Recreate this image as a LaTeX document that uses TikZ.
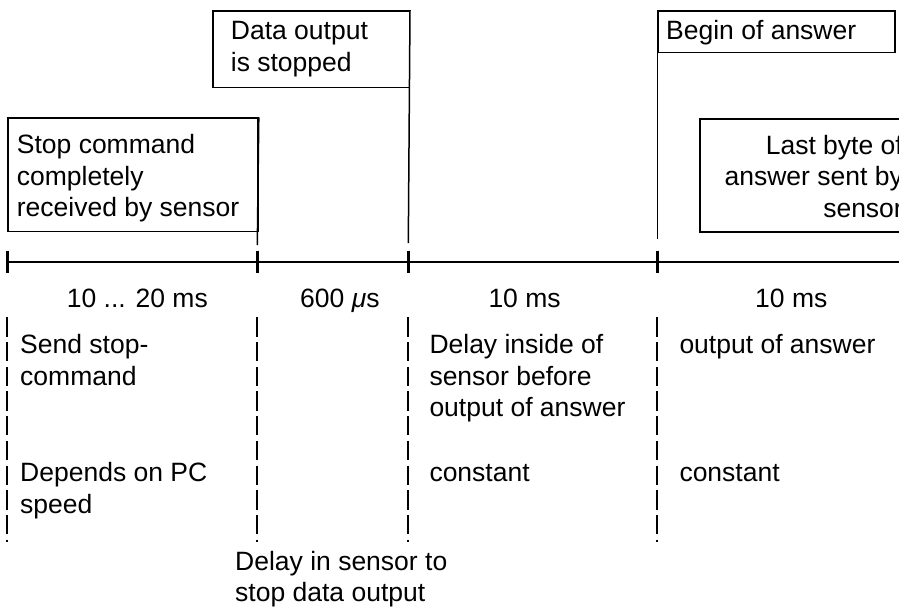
\documentclass[tikz,border=0pt]{standalone}
\usepackage{fontspec}
\setmainfont{Liberation Sans}
\begin{document}
\begin{tikzpicture}[x=1pt,y=-1pt,
  txt/.style={font=\fontsize{26.5}{31.7}\selectfont, inner sep=0pt, anchor=base west, align=left},
  txtr/.style={font=\fontsize{26.5}{31.7}\selectfont, inner sep=0pt, anchor=base east, align=right},
  boxn/.style={draw, line width=1.5pt, inner sep=0pt, anchor=north west},
  mark line/.style={line width=1.5pt},
  axis/.style={line width=2pt},
  tickl/.style={line width=3pt},
  dashl/.style={line width=2pt, dash pattern=on 19.3pt off 5.4pt}]
\path[use as bounding box] (0,0) rectangle (899,606);
\clip (0,0) rectangle (899,606);

% boxes
\node[boxn, minimum width=250pt, minimum height=113.4pt] (box1) at (7.3,117.3) {};
\node[boxn, minimum width=196.5pt, minimum height=76.7pt] (box2) at (212,10) {};
\node[boxn, minimum width=237pt, minimum height=41.7pt] (box3) at (657.3,10) {};
\node[boxn, minimum width=220pt, minimum height=112.7pt] (box4) at (699,118.3) {};

% box texts (anchor = baseline of the last line)
\node[txt] (t1) at (16.7,216.7) {Stop command\\completely\\received by sensor};
\node[txt] (t2) at (230.7,71) {Data output\\is stopped};
\node[txt] (t3) at (666,39) {Begin of answer};
\node[txtr] (t4) at (903,217.4) {Last byte of\\answer sent by\\sensor};

% time points
\coordinate (p0) at (7.3,262);
\coordinate (p1) at (257.3,262);
\coordinate (p2) at (408.3,262);
\coordinate (p3) at (657.3,262);
\coordinate (pend) at (905,262);

% marker lines from boxes
\coordinate (m1) at (257.3,245);
\coordinate (m2) at (408.3,243);
\coordinate (m3) at (657.3,239);
\draw[mark line] (box1.north east) -- (m1);
\draw[mark line] (box2.north east) -- (m2);
\draw[mark line] (box3.north west) -- (m3);

% time axis
\draw[axis] (p0) -- (pend);
\foreach \p in {p0,p1,p2,p3}{
  \draw[tickl] ([yshift=11.5pt]\p) -- ([yshift=-11pt]\p);
}

% dashed separators
\foreach \p in {p0,p1,p2,p3}{
  \draw[dashl] ([yshift=-55.3pt]\p) -- ([yshift=-279.7pt]\p);
}

% interval labels
\node[txt] (d1) at (66.7,307) {10 ... 20 ms};
\node[txt] (d2) at (300,307) {600 {\itshape μ}s};
\node[txt] (d3) at (488.3,307) {10 ms};
\node[txt] (d4) at (755,307) {10 ms};

% descriptions (anchor = baseline of the last line)
\node[txt] (s1) at (20,385) {Send stop-\\command};
\node[txt] (s2) at (20,513.4) {Depends on PC\\speed};
\node[txt] (s3) at (235,601.7) {Delay in sensor to\\stop data output};
\node[txt] (s4) at (429.3,416.7) {Delay inside of\\sensor before\\output of answer};
\node[txt] (s5) at (429.3,481.7) {constant};
\node[txt] (s6) at (679.3,353.3) {output of answer};
\node[txt] (s7) at (679.3,481.7) {constant};
\end{tikzpicture}
\end{document}
